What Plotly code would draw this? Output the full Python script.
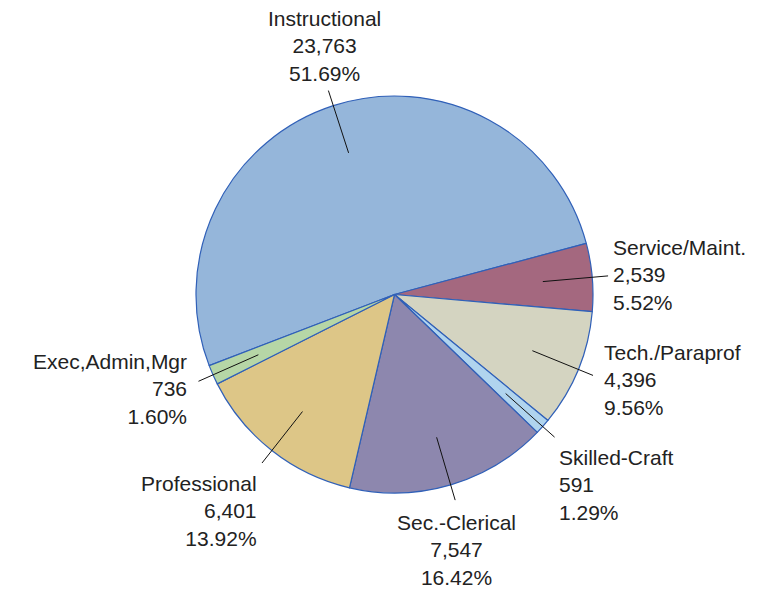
import math
import plotly.graph_objects as go

categories = ["Instructional", "Service/Maint.", "Tech./Paraprof", "Skilled-Craft",
              "Sec.-Clerical", "Professional", "Exec,Admin,Mgr"]
counts = [23763, 2539, 4396, 591, 7547, 6401, 736]
percents = [51.69, 5.52, 9.56, 1.29, 16.42, 13.92, 1.60]
colors = ["#95B6DA", "#A4687F", "#D4D4C1", "#B0D4EE", "#8D87AE", "#DDC687", "#B6D6A6"]

W, H = 762, 591
OFF = 8  # page body margin
CX, CY, R = 394.5 - OFF, 294.5 - OFF, 198.5
ROTATION = 249  # degrees clockwise from 12 o'clock where first slice starts

# label styling: (dx, dy, xanchor, yanchor, align)
label_style = [
    (-4, -4, "center", "bottom", "center"),
    (3, -1, "left", "middle", "left"),
    (9, 5, "left", "middle", "left"),
    (2, 7, "left", "top", "left"),
    (1, 9, "center", "top", "center"),
    (-3, 7, "right", "top", "right"),
    (-9, 8, "right", "middle", "right"),
]

fig = go.Figure(go.Pie(
    labels=categories, values=counts, sort=False, direction="clockwise",
    rotation=ROTATION, textinfo="none", hoverinfo="label+value+percent",
    marker=dict(colors=colors, line=dict(color="#3060B8", width=1.2)),
    domain=dict(x=[(CX - R) / W, (CX + R) / W], y=[1 - (CY + R) / H, 1 - (CY - R) / H]),
    showlegend=False,
))

total = sum(counts)
cum = 0
shapes, annotations = [], []
for cat, v, p, st in zip(categories, counts, percents, label_style):
    mid = math.radians(ROTATION + (cum + v / 2) / total * 360)
    cum += v
    sx, sy = math.sin(mid), -math.cos(mid)
    x0, y0 = CX + 0.75 * R * sx, CY + 0.75 * R * sy
    x1, y1 = CX + 1.08 * R * sx, CY + 1.08 * R * sy
    shapes.append(dict(type="line", xref="paper", yref="paper",
                       x0=x0 / W, y0=1 - y0 / H, x1=x1 / W, y1=1 - y1 / H,
                       line=dict(color="#111111", width=1)))
    dx, dy, xa, ya, al = st
    annotations.append(dict(
        x=(x1 + dx) / W, y=1 - (y1 + dy) / H, xref="paper", yref="paper",
        text=f"{cat}<br>{v:,}<br>{p:.2f}%", showarrow=False,
        xanchor=xa, yanchor=ya, align=al,
        font=dict(family="Liberation Sans, Arial, sans-serif", size=21, color="#222222"),
    ))

fig.update_layout(
    width=W, height=H, margin=dict(l=0, r=0, t=0, b=0),
    paper_bgcolor="white", plot_bgcolor="white",
    shapes=shapes, annotations=annotations,
)
fig.write_html("out.html")
